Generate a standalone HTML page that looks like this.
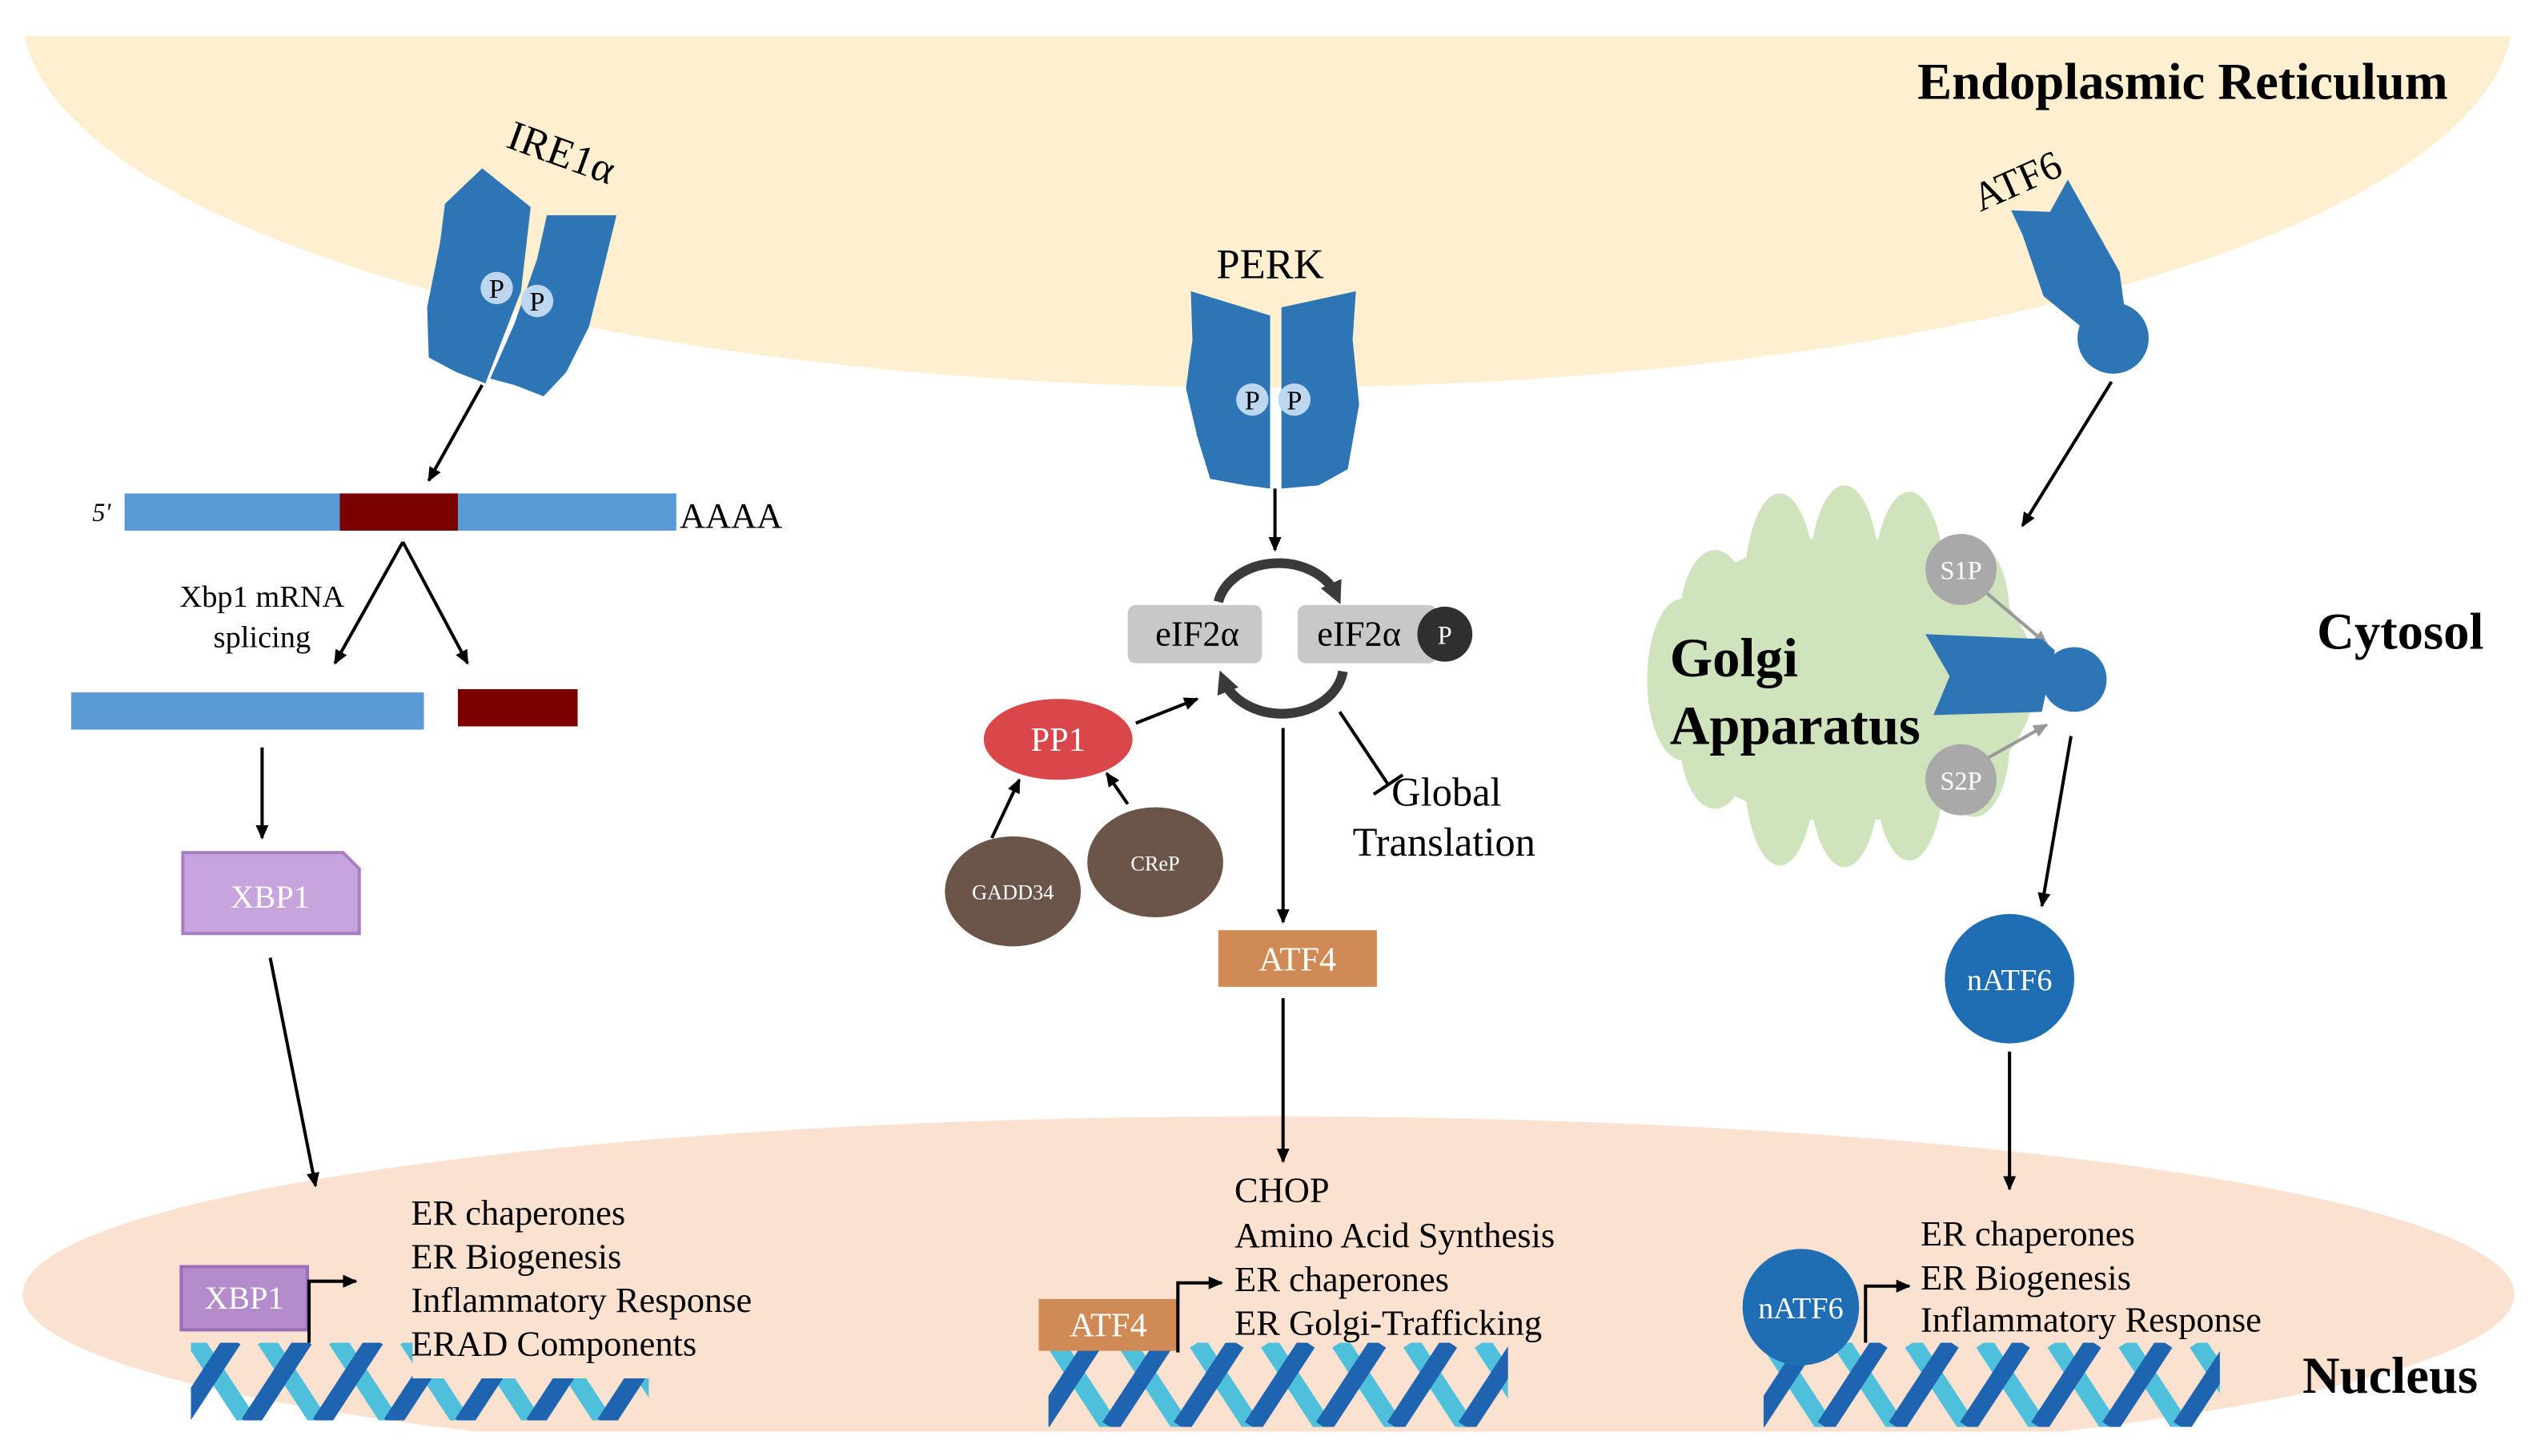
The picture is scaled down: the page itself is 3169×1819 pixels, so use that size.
<!DOCTYPE html>
<html><head><meta charset="utf-8"><style>
html,body{margin:0;padding:0;background:#fff;}
svg{display:block;}
text{font-family:"Liberation Serif",serif;}
</style></head><body>
<svg width="3169" height="1819" viewBox="0 0 1568 900" xmlns="http://www.w3.org/2000/svg">
<defs>
<marker id="ah" markerWidth="10" markerHeight="10" refX="8" refY="5" orient="auto" markerUnits="userSpaceOnUse"><path d="M0,1 L9,5 L0,9 Z" fill="#000"/></marker>
<marker id="ahg" markerWidth="10" markerHeight="10" refX="8" refY="5" orient="auto" markerUnits="userSpaceOnUse"><path d="M0,1 L9,5 L0,9 Z" fill="#999"/></marker>
<marker id="ahd" markerWidth="16" markerHeight="16" refX="8" refY="8" orient="auto" markerUnits="userSpaceOnUse"><path d="M0,1 L14,8 L0,15 Z" fill="#3a3a3a"/></marker>
<clipPath id="nc"><rect x="0" y="0" width="1568" height="885"/></clipPath>
<clipPath id="d1"><rect x="118" y="830" width="137" height="48"/><rect x="255" y="852" width="146" height="26"/></clipPath>
<clipPath id="d2"><rect x="648" y="830" width="284" height="52"/></clipPath>
<clipPath id="d3"><rect x="1090" y="830" width="282" height="52"/></clipPath>
<g id="helix">
<g stroke="#4fc0dc" stroke-width="11">
<line x1="0" y1="0" x2="34" y2="52"/><line x1="44" y1="0" x2="78" y2="52"/><line x1="88" y1="0" x2="122" y2="52"/><line x1="132" y1="0" x2="166" y2="52"/><line x1="176" y1="0" x2="210" y2="52"/><line x1="220" y1="0" x2="254" y2="52"/><line x1="264" y1="0" x2="298" y2="52"/>
</g>
<g stroke="#1f64b0" stroke-width="11">
<line x1="-10" y1="52" x2="24" y2="0"/><line x1="34" y1="52" x2="68" y2="0"/><line x1="78" y1="52" x2="112" y2="0"/><line x1="122" y1="52" x2="156" y2="0"/><line x1="166" y1="52" x2="200" y2="0"/><line x1="210" y1="52" x2="244" y2="0"/><line x1="254" y1="52" x2="288" y2="0"/>
</g>
</g>
</defs>
<!-- ER -->
<path d="M15,22 A770,232 0 0 0 1552,22 Z" fill="#fdefcf"/>
<!-- Nucleus -->
<g clip-path="url(#nc)"><ellipse cx="784" cy="800" rx="770" ry="110" fill="#fbe1cf"/></g>

<text x="1185" y="61" font-size="32" font-weight="bold">Endoplasmic Reticulum</text>
<text x="1432" y="401" font-size="32" font-weight="bold">Cytosol</text>
<text x="1423" y="861" font-size="32" font-weight="bold">Nucleus</text>

<!-- IRE1 -->
<path d="M298,104 L328,128 L322,180 L300,237 L282,230 L265,221 L264,190 L272,150 L275,126 Z" fill="#2e75b6"/>
<path d="M338,133 L381,133 L372,170 L364,202 L350,230 L336,245 L318,238 L303,234 L318,200 L332,160 Z" fill="#2e75b6"/>
<circle cx="307" cy="178" r="10" fill="#bcd7ef"/><text x="307" y="184" font-size="17" text-anchor="middle">P</text>
<circle cx="332" cy="186" r="10" fill="#bcd7ef"/><text x="332" y="192" font-size="17" text-anchor="middle">P</text>
<text x="308" y="103" font-size="26" transform="rotate(20 345 108)">IRE1α</text>
<line x1="298" y1="238" x2="265" y2="297" stroke="#000" stroke-width="2" marker-end="url(#ah)"/>
<rect x="77" y="305" width="341" height="23" fill="#5b9bd5"/>
<rect x="210" y="305" width="73" height="23" fill="#7b0000"/>
<text x="57" y="322" font-size="16" font-style="italic">5'</text>
<text x="420" y="326" font-size="22">AAAA</text>
<line x1="249" y1="335" x2="207" y2="410" stroke="#000" stroke-width="2" marker-end="url(#ah)"/>
<line x1="249" y1="335" x2="289" y2="410" stroke="#000" stroke-width="2" marker-end="url(#ah)"/>
<text x="162" y="375" font-size="19" text-anchor="middle">Xbp1 mRNA</text>
<text x="162" y="400" font-size="19" text-anchor="middle">splicing</text>
<rect x="44" y="428" width="218" height="23" fill="#5b9bd5"/>
<rect x="283" y="426" width="74" height="23" fill="#7b0000"/>
<line x1="162" y1="462" x2="162" y2="518" stroke="#000" stroke-width="2" marker-end="url(#ah)"/>
<path d="M113,527 L212,527 L222,537 L222,577 L113,577 Z" fill="#c7a4de" stroke="#a77fc4" stroke-width="2"/>
<text x="167" y="561" font-size="20" fill="#fff" text-anchor="middle">XBP1</text>
<line x1="167" y1="592" x2="195" y2="733" stroke="#000" stroke-width="2" marker-end="url(#ah)"/>
<g clip-path="url(#d1)"><use href="#helix" x="120" y="828"/></g>
<rect x="112" y="783" width="78" height="39" fill="#b48ccb" stroke="#9b6fb8" stroke-width="2"/>
<text x="151" y="809" font-size="20" fill="#fff" text-anchor="middle">XBP1</text>
<polyline points="191,830 191,792 220,792" fill="none" stroke="#000" stroke-width="2" marker-end="url(#ah)"/>
<g font-size="22"><text x="254" y="757">ER chaperones</text><text x="254" y="784">ER Biogenesis</text><text x="254" y="811">Inflammatory Response</text><text x="254" y="838">ERAD Components</text></g>

<!-- PERK -->
<text x="785" y="172" font-size="26" text-anchor="middle">PERK</text>
<path d="M736,180 L785,195 L785,302 L770,300 L748,296 L740,270 L733,240 L737,210 Z" fill="#2e75b6"/>
<path d="M792,190 L838,180 L836,210 L840,250 L833,290 L815,300 L792,302 Z" fill="#2e75b6"/>
<circle cx="774" cy="247" r="10" fill="#bcd7ef"/><text x="774" y="253" font-size="17" text-anchor="middle">P</text>
<circle cx="800" cy="247" r="10" fill="#bcd7ef"/><text x="800" y="253" font-size="17" text-anchor="middle">P</text>
<line x1="788" y1="302" x2="788" y2="340" stroke="#000" stroke-width="2" marker-end="url(#ah)"/>
<path d="M753,372 A38,30 0 0 1 826,368" fill="none" stroke="#3a3a3a" stroke-width="6" marker-end="url(#ahd)"/>
<path d="M830,415 A38,30 0 0 1 756,420" fill="none" stroke="#3a3a3a" stroke-width="6" marker-end="url(#ahd)"/>
<rect x="697" y="374" width="83" height="36" rx="5" fill="#c8c8c8"/>
<text x="740" y="399" font-size="22" text-anchor="middle">eIF2α</text>
<rect x="802" y="374" width="86" height="36" rx="5" fill="#c8c8c8"/>
<text x="840" y="399" font-size="22" text-anchor="middle">eIF2α</text>
<circle cx="893" cy="392" r="17" fill="#2f2f2f"/><text x="893" y="398" font-size="16" fill="#fff" text-anchor="middle">P</text>
<ellipse cx="654" cy="457" rx="46" ry="25" fill="#d9474a"/>
<text x="654" y="464" font-size="21" fill="#fff" text-anchor="middle">PP1</text>
<line x1="702" y1="447" x2="740" y2="432" stroke="#000" stroke-width="2" marker-end="url(#ah)"/>
<ellipse cx="626" cy="551" rx="42" ry="34" fill="#6b5548"/>
<text x="626" y="556" font-size="13" fill="#fff" text-anchor="middle">GADD34</text>
<ellipse cx="714" cy="533" rx="42" ry="34" fill="#6b5548"/>
<text x="714" y="538" font-size="13" fill="#fff" text-anchor="middle">CReP</text>
<line x1="613" y1="518" x2="630" y2="482" stroke="#000" stroke-width="2" marker-end="url(#ah)"/>
<line x1="697" y1="497" x2="684" y2="478" stroke="#000" stroke-width="2" marker-end="url(#ah)"/>
<line x1="793" y1="450" x2="793" y2="570" stroke="#000" stroke-width="2" marker-end="url(#ah)"/>
<line x1="828" y1="440" x2="858" y2="485" stroke="#000" stroke-width="2"/>
<line x1="849" y1="491" x2="867" y2="479" stroke="#000" stroke-width="2"/>
<text x="860" y="498" font-size="25">Global</text>
<text x="836" y="529" font-size="25">Translation</text>
<rect x="753" y="575" width="98" height="35" fill="#d08a55"/>
<text x="802" y="600" font-size="21" fill="#fff" text-anchor="middle">ATF4</text>
<line x1="793" y1="617" x2="793" y2="718" stroke="#000" stroke-width="2" marker-end="url(#ah)"/>
<g font-size="22"><text x="763" y="743">CHOP</text><text x="763" y="771">Amino Acid Synthesis</text><text x="763" y="798">ER chaperones</text><text x="763" y="825">ER Golgi-Trafficking</text></g>
<g clip-path="url(#d2)"><use href="#helix" x="652" y="830"/></g>
<rect x="642" y="803" width="86" height="32" fill="#d08a55"/>
<text x="685" y="826" font-size="21" fill="#fff" text-anchor="middle">ATF4</text>
<polyline points="728,836 728,793 755,793" fill="none" stroke="#000" stroke-width="2" marker-end="url(#ah)"/>

<!-- ATF6 -->
<text x="1224" y="131" font-size="25" transform="rotate(-24 1224 131)">ATF6</text>
<path d="M1243,130 L1267,131 L1278,111 L1310,168 L1313,190 L1290,205 L1263,183 L1250,145 Z" fill="#2e75b6"/>
<circle cx="1306" cy="209" r="22" fill="#2e75b6"/>
<line x1="1305" y1="236" x2="1250" y2="325" stroke="#000" stroke-width="2" marker-end="url(#ah)"/>
<g fill="#cfe3bc">
<ellipse cx="1140" cy="420" rx="118" ry="88"/>
<ellipse cx="1100" cy="365" rx="22" ry="60"/><ellipse cx="1140" cy="360" rx="22" ry="60"/><ellipse cx="1180" cy="362" rx="22" ry="58"/>
<ellipse cx="1100" cy="475" rx="22" ry="60"/><ellipse cx="1140" cy="478" rx="22" ry="58"/><ellipse cx="1180" cy="472" rx="22" ry="60"/>
<ellipse cx="1060" cy="385" rx="22" ry="45"/><ellipse cx="1060" cy="455" rx="22" ry="45"/><ellipse cx="1040" cy="420" rx="22" ry="50"/>
<ellipse cx="1220" cy="380" rx="22" ry="45"/><ellipse cx="1220" cy="460" rx="22" ry="45"/>
</g>
<text x="1032" y="418" font-size="34" font-weight="bold">Golgi</text>
<text x="1032" y="460" font-size="34" font-weight="bold">Apparatus</text>
<line x1="1226" y1="365" x2="1265" y2="398" stroke="#999" stroke-width="2" marker-end="url(#ahg)"/>
<line x1="1226" y1="470" x2="1265" y2="448" stroke="#999" stroke-width="2" marker-end="url(#ahg)"/>
<circle cx="1212" cy="352" r="22" fill="#a9a9a9"/><text x="1212" y="358" font-size="16" fill="#fff" text-anchor="middle">S1P</text>
<circle cx="1212" cy="482" r="22" fill="#a9a9a9"/><text x="1212" y="488" font-size="16" fill="#fff" text-anchor="middle">S2P</text>
<path d="M1190,392 L1262,395 L1270,402 L1262,440 L1195,442 L1205,418 Z" fill="#2e75b6"/>
<circle cx="1282" cy="420" r="20" fill="#2e75b6"/>
<line x1="1280" y1="455" x2="1262" y2="560" stroke="#000" stroke-width="2" marker-end="url(#ah)"/>
<circle cx="1242" cy="605" r="40" fill="#1f6db3"/>
<text x="1242" y="612" font-size="19" fill="#fff" text-anchor="middle">nATF6</text>
<line x1="1242" y1="650" x2="1242" y2="735" stroke="#000" stroke-width="2" marker-end="url(#ah)"/>
<g font-size="22"><text x="1187" y="770">ER chaperones</text><text x="1187" y="797">ER Biogenesis</text><text x="1187" y="823">Inflammatory Response</text></g>
<g clip-path="url(#d3)"><use href="#helix" x="1094" y="830"/></g>
<circle cx="1113" cy="808" r="36" fill="#1f6db3"/>
<text x="1113" y="815" font-size="19" fill="#fff" text-anchor="middle">nATF6</text>
<polyline points="1153,830 1153,795 1180,795" fill="none" stroke="#000" stroke-width="2" marker-end="url(#ah)"/>
</svg>
</body></html>
